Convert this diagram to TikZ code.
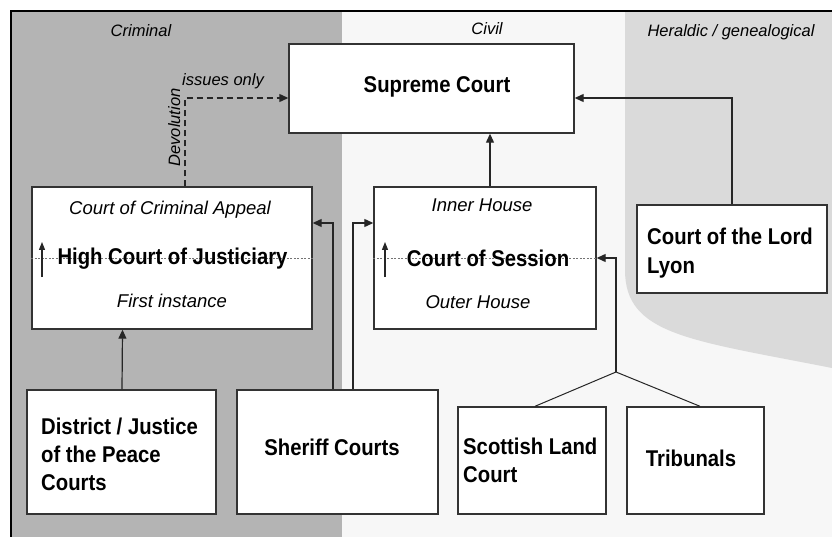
\documentclass[tikz,border=0pt]{standalone}
\usepackage{fontspec}
\setmainfont{Liberation Sans}
\newfontfamily\bnar{Liberation Sans}[FakeStretch=0.89]
\usetikzlibrary{arrows.meta,calc}
\definecolor{crimgray}{HTML}{B4B4B4}
\definecolor{civgray}{HTML}{F7F7F7}
\definecolor{hergray}{HTML}{DADADA}
\definecolor{boxline}{HTML}{333333}
\tikzset{
  court/.style={draw=boxline,line width=1.4pt,fill=white,rectangle,inner sep=0pt},
  bigtxt/.style={font=\bnar\fontsize{22.8}{28}\selectfont\bfseries,inner sep=0pt,anchor=base},
  bigl/.style={bigtxt,anchor=base west},
  ittxt/.style={font=\fontsize{18.5}{22}\selectfont\itshape,inner sep=0pt,anchor=base},
  regtxt/.style={font=\fontsize{16.5}{20}\selectfont\itshape,inner sep=0pt,anchor=base},
  conn/.style={draw=black!85,line width=1.2pt},
  arr/.style={conn,-{Triangle[length=9pt,width=8pt]}},
  uparr/.style={conn,line width=1.2pt,-{Triangle[length=8pt,width=6pt]}},
  divline/.style={draw=black!55,line width=0.6pt,dash pattern=on 2pt off 1.5pt},
}
\begin{document}
\begin{tikzpicture}[x=1pt,y=-1pt]
\useasboundingbox (0,0) rectangle (832,537);
% regions
\fill[white] (0,0) rectangle (832,537);
\fill[crimgray] (11,11) rectangle (342,537);
\fill[civgray] (342,11) rectangle (832,537);
\fill[hergray] (625,11) -- (625,270) .. controls (625,335) and (690,340) .. (832,368) -- (832,11) -- cycle;
\draw[black,line width=2.2pt] (11,537) -- (11,11) -- (832,11);
% region labels
\node[regtxt] (lcrim) at (141,36.5) {Criminal};
\node[regtxt] (lciv) at (487,35) {Civil};
\node[regtxt] (lher) at (731,36.5) {Heraldic / genealogical};
% boxes
\node[court,minimum width=285pt,minimum height=89pt] (sup) at (431.5,88.5) {};
\node[court,minimum width=280pt,minimum height=142pt] (hcj) at (172,258) {};
\node[court,minimum width=222pt,minimum height=142pt] (cos) at (485,258) {};
\node[court,minimum width=190pt,minimum height=88pt] (lyon) at (732,249) {};
\node[court,minimum width=189pt,minimum height=124pt] (djp) at (121.5,452) {};
\node[court,minimum width=201pt,minimum height=124pt] (sher) at (337.5,452) {};
\node[court,minimum width=148pt,minimum height=107pt] (land) at (532,460.5) {};
\node[court,minimum width=137pt,minimum height=107pt] (trib) at (695.5,460.5) {};
% inner dividers
\draw[divline] (hcj.west) -- (hcj.east);
\draw[divline] (cos.west) -- (cos.east);
% texts
\node[bigtxt] (suptxt) at (437,92.5) {Supreme Court};
\node[ittxt] (cca) at (170,215) {Court of Criminal Appeal};
\node[bigtxt] (hcjtxt) at (172.5,264.5) {High Court of Justiciary};
\node[ittxt] (fi) at (172,307) {First instance};
\node[ittxt] (ih) at (482,212) {Inner House};
\node[bigtxt] (costxt) at (488,266) {Court of Session};
\node[ittxt] (oh) at (478,308) {Outer House};
\node[bigl] (lyon1) at (647,245) {Court of the Lord};
\node[bigl] (lyon2) at (647,273) {Lyon};
\node[bigl] (djp1) at (41,434) {District / Justice};
\node[bigl] (djp2) at (41,462) {of the Peace};
\node[bigl] (djp3) at (41,490) {Courts};
\node[bigtxt] (shertxt) at (332,455) {Sheriff Courts};
\node[bigl] (land1) at (463,454) {Scottish Land};
\node[bigl] (land2) at (463,482) {Court};
\node[bigtxt] (tribtxt) at (691,466) {Tribunals};
% small up arrows
\coordinate (ua1s) at (42,277); \coordinate (ua1e) at (42,242);
\coordinate (ua2s) at (385,277); \coordinate (ua2e) at (385,242);
\draw[uparr] (ua1s) -- (ua1e);
\draw[uparr] (ua2s) -- (ua2e);
% connectors
\draw[arr] ([xshift=0.5pt]djp.north) -- ([xshift=-49.5pt]hcj.south);
\draw[arr] ([xshift=-4.5pt]sher.north) |- ([yshift=35pt]hcj.east);
\draw[arr] ([xshift=15.5pt]sher.north) |- ([yshift=35pt]cos.west);
\draw[arr] ([xshift=5pt]cos.north) -- ([xshift=58.5pt]sup.south);
\draw[arr] (lyon.north) |- ([yshift=-9.5pt]sup.east);
\draw[arr,dash pattern=on 6pt off 4pt] ([xshift=13pt]hcj.north) |- ([yshift=-9.5pt]sup.west);
\coordinate (junc) at (616,372);
\draw[conn,line width=1pt] ([xshift=3pt]land.north) -- (junc) -- ([xshift=4.5pt]trib.north);
\draw[arr] (junc) |- (cos.east);
% dashed labels
\node[regtxt] (iss) at (223,86) {issues only};
\node[regtxt,rotate=90] (dev) at (180,127.5) {Devolution};
\end{tikzpicture}
\end{document}
